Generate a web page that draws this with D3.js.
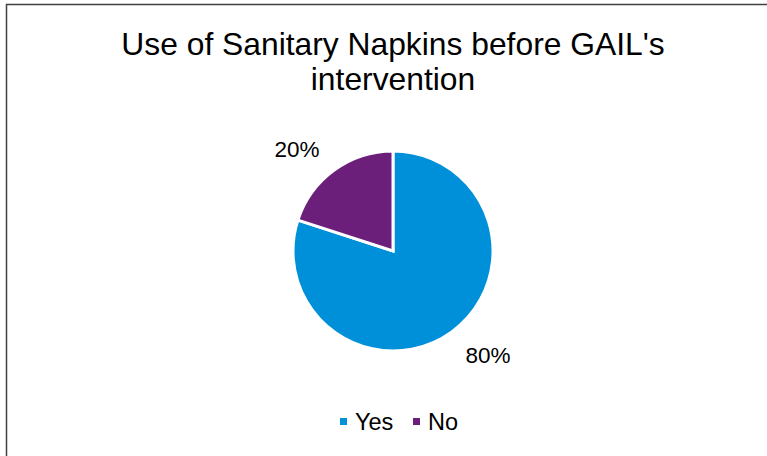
<!DOCTYPE html>
<html>
<head>
<meta charset="utf-8">
<script src="https://cdn.jsdelivr.net/npm/d3@7"></script>
<style>
  body { margin: 0; background: #fff; }
  text { font-family: "Liberation Sans", Arial, sans-serif; fill: #000; }
</style>
</head>
<body>
<div id="chart"></div>
<script>
const categories = ["Yes", "No"];
const values = [80, 20];
const colors = ["#0090DA", "#6B1F7A"];
const titleLines = ["Use of Sanitary Napkins before GAIL's", "intervention"];

const width = 767, height = 456;
const svg = d3.select("#chart")
  .append("svg")
  .attr("width", width)
  .attr("height", height);

// chart border (runs off right/bottom edge)
svg.append("rect")
  .attr("x", 6.5)
  .attr("y", 4.5)
  .attr("width", width + 10)
  .attr("height", height + 10)
  .attr("fill", "none")
  .attr("stroke", "#404040")
  .attr("stroke-width", 1.5);

svg.selectAll(".title")
  .data(titleLines)
  .enter()
  .append("text")
  .attr("class", "title")
  .attr("x", 393)
  .attr("y", (d, i) => 54.5 + i * 35.5)
  .attr("text-anchor", "middle")
  .attr("font-size", 31.8)
  .text(d => d);

const cx = 393, cy = 251, r = 100;
const pie = d3.pie().sort(null).value(d => d)(values);
const arc = d3.arc().innerRadius(0).outerRadius(r);

const g = svg.append("g").attr("transform", `translate(${cx},${cy})`);

g.selectAll("path")
  .data(pie)
  .enter()
  .append("path")
  .attr("d", arc)
  .attr("fill", (d, i) => colors[i])
  .attr("stroke", "#fff")
  .attr("stroke-width", 3)
  .attr("stroke-linejoin", "miter");

const total = d3.sum(values);
const labelPos = [[95, 112], [-96, -94]];
g.selectAll(".lbl")
  .data(pie)
  .enter()
  .append("text")
  .attr("class", "lbl")
  .attr("x", (d, i) => labelPos[i][0])
  .attr("y", (d, i) => labelPos[i][1])
  .attr("text-anchor", "middle")
  .attr("font-size", 22.5)
  .text(d => Math.round(d.data / total * 100) + "%");

const legend = svg.append("g").attr("transform", "translate(340,421)");
const items = legend.selectAll("g")
  .data(categories)
  .enter()
  .append("g")
  .attr("transform", (d, i) => `translate(${i * 73},0)`);
items.append("rect")
  .attr("x", 0)
  .attr("y", -3)
  .attr("width", 7)
  .attr("height", 7)
  .attr("fill", (d, i) => colors[i]);
items.append("text")
  .attr("x", 15)
  .attr("y", 8.5)
  .attr("font-size", 23.5)
  .text(d => d);
</script>
</body>
</html>
